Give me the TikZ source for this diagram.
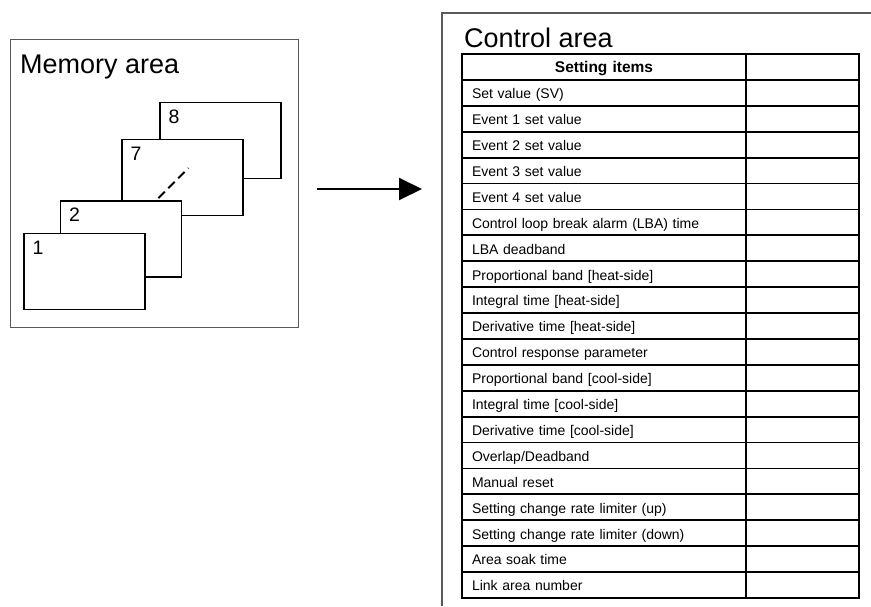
\documentclass[tikz,border=0pt]{standalone}
\usepackage{fontspec}
\setmainfont{Liberation Sans}
\usetikzlibrary{positioning,arrows.meta,calc}

\begin{document}
\begin{tikzpicture}[
      x=1pt, y=-1pt,
      frame/.style={draw=black!65, line width=1.4pt},
      sheet/.style={draw, fill=white, line width=1.1pt,
                    minimum width=121pt, minimum height=76pt, inner sep=0pt},
      num/.style={font=\fontsize{19.5}{22}\selectfont, anchor=north west, inner sep=0pt},
      title/.style={font=\fontsize{27}{30}\selectfont, anchor=base west, inner sep=0pt},
      cell/.style={draw, line width=1.8pt, outer sep=0pt,
                   minimum height=25.9pt, inner xsep=10pt, inner ysep=0pt,
                   text height=12pt, text depth=0.2pt,
                   font=\fontsize{14}{16}\selectfont},
      itemcell/.style={cell, text width=264pt, align=left},
      valcell/.style={cell, minimum width=113pt},
      flow/.style={-{Triangle[length=23pt,width=22pt]}, line width=2pt}
    ]

    \useasboundingbox (0,0) rectangle (871,606);

    % memory area with the stacked sheets
    \node[frame, minimum width=288pt, minimum height=288pt, anchor=north west] (mem) at (10,39) {};
    \node[title] (memlbl) at (20,73) {Memory area};

    \node[sheet] (s8) at (220.5,140.5) {};
    \node[sheet] (s7) at (182.5,177.5) {};
    \node[sheet] (s2) at (121,239) {};
    \node[sheet] (s1) at (84.5,271.5) {};
    \foreach \s in {8,7,2,1}
      \node[num] (n\s) at ($(s\s.north west)+(9,7.5)$) {\s};

    \draw[line width=2pt, dash pattern=on 9pt off 5pt]
      ($(s7.south west)+(37,-18)$) -- ($(s7.south west)+(67,-48)$);

    % transfer arrow
    \coordinate (from) at (317,189);
    \coordinate (to)   at (422,189);
    \draw[flow] (from) -- (to);

    % control area, cut off at the right and bottom
    \draw[frame] (871,13) -- (442,13) -- (442,606);
    \node[title] (ctllbl) at (464,47) {Control area};

    \node[itemcell, anchor=north west, align=center,
          font=\bfseries\fontsize{15.5}{18}\selectfont] (t0) at (462,54) {Setting items};
    \node[valcell, anchor=north west] (v0) at (t0.north east) {};

    \foreach \txt [count=\i] in {
        {Set value (SV)},
        {Event 1 set value},
        {Event 2 set value},
        {Event 3 set value},
        {Event 4 set value},
        {Control loop break alarm (LBA) time},
        {LBA deadband},
        {Proportional band [heat-side]},
        {Integral time [heat-side]},
        {Derivative time [heat-side]},
        {Control response parameter},
        {Proportional band [cool-side]},
        {Integral time [cool-side]},
        {Derivative time [cool-side]},
        {Overlap/Deadband},
        {Manual reset},
        {Setting change rate limiter (up)},
        {Setting change rate limiter (down)},
        {Area soak time},
        {Link area number}} {
      \node[itemcell, anchor=north west] (t\i) at (462,{54+25.9*\i}) {\txt};
      \node[valcell, anchor=north west] (v\i) at (t\i.north east) {};
    }

  \end{tikzpicture}
\end{document}
